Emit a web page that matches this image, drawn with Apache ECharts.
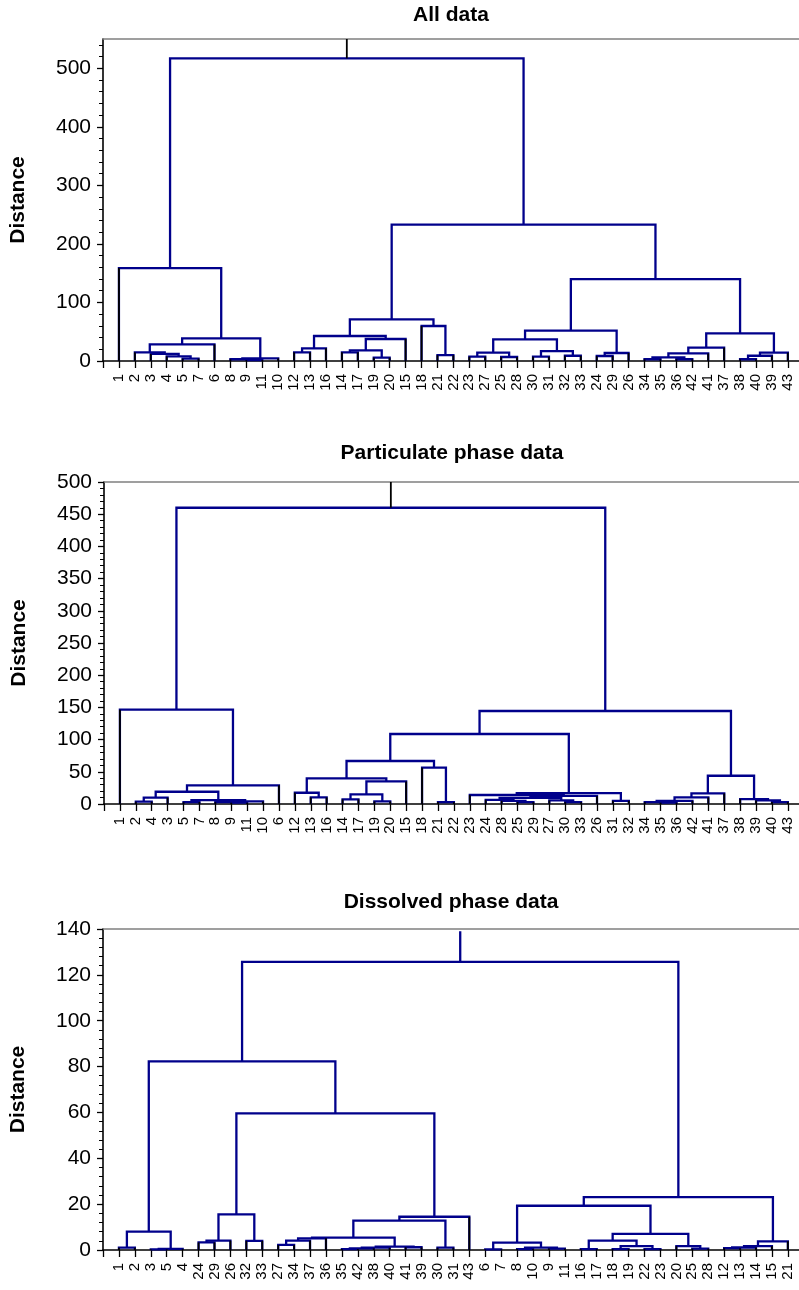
<!DOCTYPE html>
<html lang="en">
<head>
<meta charset="UTF-8">
<title>Dendrograms</title>
<script src="https://cdn.jsdelivr.net/npm/echarts@6/dist/echarts.min.js"></script>
<style>
    html, body { margin: 0; padding: 0; background: #fff; }
    #chart { width: 799px; height: 1290px; }
</style>
</head>
<body>
<div id="chart"></div>
<script>
    // leaf order along the x axis
    var allLabels = [1, 2, 3, 4, 5, 7, 6, 8, 9, 11, 10, 12, 13, 16, 14, 17, 19, 20, 15, 18, 21, 22, 23, 27, 25, 28, 30, 31, 32, 33, 24, 29, 26, 34, 35, 36, 42, 41, 37, 38, 40, 39, 43];
    var partLabels = [1, 2, 4, 3, 5, 7, 8, 9, 11, 10, 6, 12, 13, 16, 14, 17, 19, 20, 15, 18, 21, 22, 23, 24, 28, 25, 29, 27, 30, 33, 26, 31, 32, 34, 35, 36, 42, 41, 37, 38, 39, 40, 43];
    var dissLabels = [1, 2, 3, 5, 4, 24, 29, 26, 32, 33, 27, 34, 37, 36, 35, 42, 38, 40, 41, 39, 30, 31, 43, 6, 7, 8, 10, 9, 11, 16, 17, 18, 19, 22, 23, 20, 25, 28, 12, 13, 14, 15, 21];

    // merges: [child a, child b, distance]; 'mK' = result of merge K
    var allMerges = [
        [5, 7, 4], [4, 'm0', 8], [3, 'm1', 12], [2, 'm2', 14.8], ['m3', 6, 28.5],
        [9, 11, 1.5], [8, 'm5', 3], ['m6', 10, 4.5], ['m4', 'm7', 38.7], [1, 'm8', 158.8],
        [12, 13, 14.8], ['m10', 16, 21.6], [14, 17, 14.8], [19, 20, 5.7], ['m12', 'm13', 18.2],
        ['m14', 15, 37.6], ['m11', 'm15', 42.7], [21, 22, 10], [18, 'm17', 59.8], ['m16', 'm18', 71.2],
        [23, 27, 7.4], [25, 28, 6.8], ['m20', 'm21', 14.2], [30, 31, 7.4], [32, 33, 9],
        ['m23', 'm24', 17], ['m22', 'm25', 37], [24, 29, 8.5], ['m27', 26, 13.7], ['m26', 'm28', 51.8],
        [34, 35, 3], [36, 42, 3], ['m30', 'm31', 6.2], ['m32', 41, 13], ['m33', 37, 22.8],
        [38, 40, 3], ['m35', 39, 9], ['m36', 43, 14.2], ['m34', 'm37', 47.3], ['m29', 'm38', 140],
        ['m19', 'm39', 232.8], ['m9', 'm40', 517]
    ];
    var partMerges = [
        [2, 4, 3.6], ['m0', 3, 9.8], [5, 7, 3], [9, 11, 2], [8, 'm3', 3],
        ['m4', 10, 4], ['m2', 'm5', 6], ['m1', 'm6', 19], ['m7', 6, 29], [1, 'm8', 146.4],
        [13, 16, 10.3], [12, 'm10', 17.5], [14, 17, 7.2], [19, 20, 4], ['m12', 'm13', 15],
        ['m14', 15, 35], ['m11', 'm15', 39.8], [21, 22, 3], [18, 'm17', 56.4], ['m16', 'm18', 66.8],
        [25, 29, 3], [28, 'm20', 5], [24, 'm21', 6.5], [30, 33, 3], [27, 'm23', 5.5],
        ['m22', 'm24', 9.5], ['m25', 26, 12.5], [23, 'm26', 14], [31, 32, 5], ['m27', 'm28', 17],
        ['m19', 'm29', 108.7], [35, 36, 2], [34, 'm31', 3], ['m32', 42, 5], ['m33', 41, 10.3],
        ['m34', 37, 16.5], [40, 43, 3], [39, 'm36', 5.5], [38, 'm37', 7.7], ['m35', 'm38', 43.9],
        ['m30', 'm39', 144.4], ['m9', 'm40', 460]
    ];
    var dissMerges = [
        [1, 2, 1], [3, 5, 0.3], ['m1', 4, 0.5], ['m0', 'm2', 8], [24, 29, 3.3],
        ['m4', 26, 4.1], [32, 33, 4], ['m5', 'm6', 15.5], [27, 34, 2.2], ['m8', 37, 4.1],
        ['m9', 36, 5.1], [35, 42, 0.4], ['m11', 38, 0.7], ['m12', 40, 1.0], [41, 39, 1.2],
        ['m13', 'm14', 1.5], ['m10', 'm15', 5.4], [30, 31, 1], ['m16', 'm17', 12.8], ['m18', 43, 14.5],
        ['m7', 'm19', 59.6], ['m3', 'm20', 82.3], [6, 7, 0.3], [8, 10, 0.4], [9, 11, 0.6],
        ['m23', 'm24', 1.0], ['m22', 'm25', 3.2], [16, 17, 0.4], [18, 19, 0.4], [22, 23, 0.4],
        ['m28', 'm29', 1.7], ['m27', 'm30', 4.1], [25, 28, 0.6], [20, 'm32', 1.7], ['m31', 'm33', 7],
        ['m26', 'm34', 19.3], [12, 13, 0.8], ['m36', 14, 1.1], ['m37', 15, 1.7], ['m38', 21, 3.8],
        ['m35', 'm39', 23.1], ['m21', 'm40', 125.7]
    ];

    var allYTicks = [0, 100, 200, 300, 400, 500];
    var partYTicks = [0, 50, 100, 150, 200, 250, 300, 350, 400, 450, 500];
    var dissYTicks = [0, 20, 40, 60, 80, 100, 120, 140];

    var FONT = 'Liberation Sans, Arial, Helvetica, sans-serif';
    var BLUE = '#00008b';

    var panels = [
        { title: 'All data', labels: allLabels, merges: allMerges, yTicks: allYTicks, yMax: 550, minor: 20,
          stemTop: 550, stemColor: '#000', left: 103, top: 39, height: 322, titleY: 15 },
        { title: 'Particulate phase data', labels: partLabels, merges: partMerges, yTicks: partYTicks, yMax: 500, minor: 10,
          stemTop: 500, stemColor: '#000', left: 104, top: 482, height: 322, titleY: 453 },
        { title: 'Dissolved phase data', labels: dissLabels, merges: dissMerges, yTicks: dissYTicks, yMax: 140, minor: 4,
          stemTop: 139, stemColor: BLUE, left: 103, top: 929, height: 321, titleY: 902 }
    ];

    // turn the merge list into U shaped links (blue) and leaf legs (black)
    function buildTree(labels, merges) {
        var nodes = {};
        labels.forEach(function (lab, i) {
            nodes[lab] = { x: i, h: 0, leaf: true };
        });
        var links = [], legs = [];
        merges.forEach(function (m, k) {
            var a = nodes[m[0]], b = nodes[m[1]], h = m[2];
            links.push({ coords: [[a.x, a.h], [a.x, h], [b.x, h], [b.x, b.h]] });
            if (a.leaf) legs.push({ coords: [[a.x, 0], [a.x, h]] });
            if (b.leaf) legs.push({ coords: [[b.x, 0], [b.x, h]] });
            nodes['m' + k] = { x: (a.x + b.x) / 2, h: h, leaf: false };
        });
        return { links: links, legs: legs, root: nodes['m' + (merges.length - 1)] };
    }

    var chart = echarts.init(document.getElementById('chart'));
    var option = {
        animation: false,
        backgroundColor: '#fff',
        grid: [], xAxis: [], yAxis: [], series: [], graphic: []
    };

    panels.forEach(function (p, i) {
        var tree = buildTree(p.labels, p.merges);
        var leafIdx = p.labels.map(function (l, k) { return k; });
        var minors = [];
        for (var v = p.minor; v < p.yMax; v += p.minor) {
            if (p.yTicks.indexOf(v) < 0) minors.push(v);
        }

        option.grid.push({ left: p.left, top: p.top, height: p.height, right: 0 });

        option.xAxis.push({
            type: 'value', gridIndex: i, position: 'bottom', min: -1, max: 42.7,
            splitLine: { show: false },
            axisLine: { onZero: false, lineStyle: { color: '#000', width: 1.6 } },
            axisTick: { customValues: [-1].concat(leafIdx), length: 7, lineStyle: { color: '#000', width: 1.3 } },
            axisLabel: {
                customValues: leafIdx, rotate: 90, margin: 13, color: '#000',
                fontFamily: FONT, fontSize: 15,
                formatter: function (val) { return String(p.labels[Math.round(val)]); }
            }
        });
        option.xAxis.push({
            type: 'value', gridIndex: i, position: 'top', min: -1, max: 42.7,
            splitLine: { show: false },
            axisLine: { onZero: false, lineStyle: { color: '#808080', width: 1.6 } },
            axisTick: { show: false }, axisLabel: { show: false }
        });

        option.yAxis.push({
            type: 'value', gridIndex: i, position: 'left', min: 0, max: p.yMax,
            name: 'Distance', nameLocation: 'middle', nameGap: 74,
            nameTextStyle: { fontFamily: FONT, fontSize: 21, fontWeight: 'bold', color: '#000' },
            splitLine: { show: false },
            axisLine: { onZero: false, lineStyle: { color: '#000', width: 1.6 } },
            axisTick: { customValues: p.yTicks, length: 6, lineStyle: { color: '#000', width: 1.3 } },
            axisLabel: { customValues: p.yTicks, margin: 12, color: '#000', fontFamily: FONT, fontSize: 21 }
        });
        option.yAxis.push({
            type: 'value', gridIndex: i, position: 'left', min: 0, max: p.yMax,
            splitLine: { show: false },
            axisLine: { show: false, onZero: false },
            axisTick: { customValues: minors, length: 4, lineStyle: { color: '#000', width: 1 } },
            axisLabel: { show: false }
        });

        var stem = { coords: [[tree.root.x, tree.root.h], [tree.root.x, p.stemTop]] };

        option.series.push({
            type: 'lines', coordinateSystem: 'cartesian2d', polyline: true, silent: true,
            xAxisIndex: 2 * i, yAxisIndex: 2 * i,
            lineStyle: { color: BLUE, width: 2.3, opacity: 1, join: 'miter' },
            data: tree.links.concat(p.stemColor === BLUE ? [stem] : [])
        });
        option.series.push({
            type: 'lines', coordinateSystem: 'cartesian2d', polyline: true, silent: true,
            xAxisIndex: 2 * i, yAxisIndex: 2 * i,
            lineStyle: { color: '#000', width: 1.8, opacity: 1 },
            data: tree.legs.concat(p.stemColor === BLUE ? [] : [stem])
        });

        option.graphic.push({
            type: 'text', x: p.left + 348, y: p.titleY,
            style: {
                text: p.title, fill: '#000', font: 'bold 21px ' + FONT,
                textAlign: 'center', textVerticalAlign: 'middle'
            }
        });
    });

    chart.setOption(option);
</script>
</body>
</html>
